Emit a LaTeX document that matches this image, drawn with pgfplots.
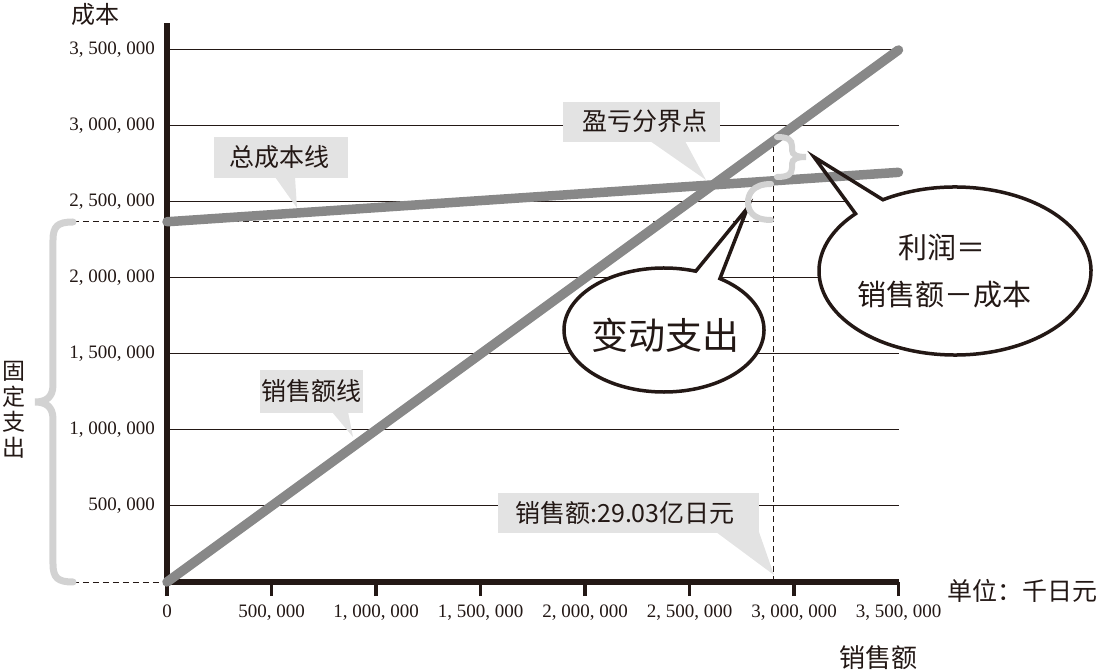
\documentclass[border=0pt]{standalone}
\usepackage{fontspec}
\setmainfont{Liberation Serif}
\newfontfamily\cjk{Noto Sans CJK SC}
\usepackage{pgfplots}
\pgfplotsset{compat=1.18}
\usetikzlibrary{calc}

\definecolor{ink}{HTML}{231815}
\definecolor{linegray}{HTML}{888888}
\definecolor{boxgray}{HTML}{E3E3E3}
\definecolor{bracegray}{HTML}{D2D2D2}

\newcommand\fs[1]{\fontsize{#1bp}{#1bp}\selectfont}
% speech bubble: cx, cy, rx, ry, start angle, end angle, tip
\newcommand\bubble[7]{(#1bp,#2bp) ++(#5:#3bp and #4bp)
  arc[start angle=#5, end angle=#6, x radius=#3bp, y radius=#4bp] -- (#7) -- cycle}

\begin{document}
\begin{tikzpicture}
\path[use as bounding box] (0,0) rectangle (1101bp,671bp);
\begin{axis}[
  at={(167bp,89bp)}, anchor=south west,
  scale only axis, width=731.5bp, height=559.36bp,
  xmin=0, xmax=3500000, ymin=0, ymax=3680000,
  clip=false, scaled ticks=false,
  axis x line=bottom, axis y line=left,
  axis line style={-, line width=6bp, draw=ink},
  xtick={0,500000,1000000,1500000,2000000,2500000,3000000,3500000},
  xticklabels={0,{500, 000},{1, 000, 000},{1, 500, 000},{2, 000, 000},{2, 500, 000},{3, 000, 000},{3, 500, 000}},
  ytick={500000,1000000,1500000,2000000,2500000,3000000,3500000},
  yticklabels={{500, 000},{1, 000, 000},{1, 500, 000},{2, 000, 000},{2, 500, 000},{3, 000, 000},{3, 500, 000}},
  ymajorgrids, major grid style={line width=1bp, draw=ink},
  tick align=outside, major tick length=14bp,
  xtick style={line width=3.5bp, draw=ink},
  ytick style={draw=none},
  tick label style={font=\fs{19}, text=ink, inner sep=0pt},
  xticklabel style={anchor=north, yshift=-9bp},
  yticklabel style={anchor=east, xshift=2bp},
]

% guide lines
\addplot[ink, line width=1bp, dash pattern=on 6bp off 4bp] coordinates {(-450000,2370000) (2903000,2370000)};
\addplot[ink, line width=1bp, dash pattern=on 6bp off 4bp] coordinates {(-450000,0) (0,0)};
\addplot[ink, line width=1bp, dash pattern=on 6bp off 4bp] coordinates {(2903000,0) (2903000,2903000)};

\begin{scope}[shift={($(axis cs:0,0)+(-167bp,582bp)$)}, yscale=-1]
  % grey labels
  \fill[boxgray] (214bp,137bp) rectangle (348bp,178bp);
  \fill[boxgray] (275bp,177bp) -- (297bp,208bp) -- (295bp,177bp) -- cycle;
  \node[text=ink, font=\cjk\fs{25}] at (279bp,157bp) {总成本线};

  \fill[boxgray] (563bp,102bp) rectangle (720bp,142bp);
  \fill[boxgray] (650bp,141bp) -- (706bp,180bp) -- (685bp,141bp) -- cycle;
  \node[text=ink, font=\cjk\fs{25}] at (645bp,121bp) {盈亏分界点};

  \fill[boxgray] (260bp,370bp) rectangle (363bp,413bp);
  \fill[boxgray] (332bp,412bp) -- (353bp,437bp) -- (348bp,412bp) -- cycle;
  \node[text=ink, font=\cjk\fs{25}] at (311bp,391bp) {销售额线};

  \fill[boxgray] (498bp,493bp) rectangle (759bp,533bp);
  \fill[boxgray] (716bp,532bp) -- (774bp,575bp) -- (759bp,532bp) -- cycle;
  \node[text=ink, font=\cjk\fs{25}] at (625bp,513bp) {销售额:29.03亿日元};

  % bubble fills
  \fill[white] \bubble{664}{330}{100}{62}{-56}{288.5}{747.5bp,208bp};
  \fill[white] \bubble{955}{271}{136}{84}{-122}{223}{814bp,157bp};
\end{scope}

% sales and total cost
\addplot[linegray, line width=9.5bp, line cap=round] coordinates {(0,0) (3500000,3500000)};
\addplot[linegray, line width=9.5bp, line cap=round] coordinates {(0,2370000) (3500000,2695000)};

\begin{scope}[shift={($(axis cs:0,0)+(-167bp,582bp)$)}, yscale=-1]
  \draw[ink, line width=3.5bp] \bubble{664}{330}{100}{62}{-56}{288.5}{747.5bp,208bp};
  \draw[ink, line width=3.5bp] \bubble{955}{271}{136}{84}{-122}{223}{814bp,157bp};
  \node[text=ink, font=\cjk\fs{37}] at (665bp,335bp) {变动支出};
  \node[text=ink, font=\cjk\fs{29}] at (942bp,247bp) {利润＝};
  \node[text=ink, font=\cjk\fs{29}] at (944bp,295bp) {销售额－成本};

  % braces
  \draw[bracegray, line width=7bp, line cap=round]
    (73bp,222bp) .. controls (58bp,222bp) and (53bp,226bp) .. (53bp,240bp)
    -- (53bp,385bp) .. controls (53bp,398bp) and (45bp,402bp) .. (35bp,402bp)
    .. controls (45bp,402bp) and (53bp,406bp) .. (53bp,419bp)
    -- (53bp,564bp) .. controls (53bp,578bp) and (58bp,582bp) .. (73bp,582bp);
  \draw[bracegray, line width=6bp, line cap=round]
    (777bp,137bp) .. controls (788bp,137bp) and (792bp,140bp) .. (792bp,146bp)
    -- (792bp,150bp) .. controls (792bp,155bp) and (797bp,157bp) .. (806bp,157bp)
    .. controls (797bp,157bp) and (792bp,159bp) .. (792bp,164bp)
    -- (792bp,168bp) .. controls (792bp,174bp) and (788bp,177bp) .. (777bp,177bp);
  \draw[bracegray, line width=6bp, line cap=round]
    (771bp,184bp) .. controls (752bp,184bp) and (748bp,195bp) .. (748bp,202bp)
    .. controls (748bp,210bp) and (752bp,220bp) .. (771bp,220bp);

  % axis titles and notes
  \node[text=ink, font=\cjk\fs{24}] at (96bp,14bp) {成本};
  \node[text=ink, font=\cjk\fs{25}] at (1022bp,591bp) {单位：千日元};
  \node[text=ink, font=\cjk\fs{26}] at (878bp,658bp) {销售额};
  \node[text=ink, font=\cjk\fontsize{23bp}{25.5bp}\selectfont, align=center] at (14bp,410bp) {固\\定\\支\\出};
\end{scope}
\end{axis}
\end{tikzpicture}
\end{document}
